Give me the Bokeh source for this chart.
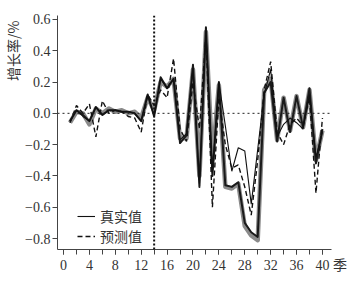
from bokeh.plotting import figure
from bokeh.models import (FixedTicker, CustomJSTickFormatter, Span, Legend, LegendItem, Range1d, Title)
from bokeh.embed import file_html
from bokeh.resources import INLINE

quarters = list(range(1, 41))
split_q = 14
x_unit = "季"
y_title = "增长率/%"

gray_vals = [-0.06, 0.01, 0.00, -0.07, 0.03, 0.00, 0.03, 0.01, 0.02, 0.00,
             0.01, -0.03, 0.10, 0.02, 0.20, 0.17, 0.22, -0.16, -0.16, 0.28,
             -0.40, 0.52, -0.30, 0.18, -0.47, -0.48, -0.45, -0.72, -0.78, -0.81,
             0.15, 0.22, -0.17, 0.10, -0.11, 0.11, -0.09, 0.15, -0.30, -0.11]
black_vals = [-0.05, 0.02, -0.01, -0.05, 0.04, -0.01, 0.02, 0.02, 0.01, 0.01,
              0.00, -0.05, 0.12, -0.02, 0.23, 0.16, 0.22, -0.19, -0.14, 0.31,
              -0.47, 0.55, -0.40, 0.20, -0.46, -0.47, -0.44, -0.70, -0.76, -0.79,
              0.13, 0.20, -0.18, 0.10, -0.12, 0.11, -0.09, 0.16, -0.32, -0.10]
true_vals = [-0.05, 0.02, -0.02, -0.05, 0.04, -0.01, 0.02, 0.02, 0.01, 0.01,
             0.00, -0.05, 0.12, -0.02, 0.22, 0.16, 0.22, -0.17, -0.13, 0.29,
             -0.45, 0.53, -0.38, 0.20, -0.08, -0.37, -0.22, -0.24, -0.58, -0.23,
             0.12, 0.28, -0.15, -0.07, -0.03, -0.06, -0.10, 0.12, -0.28, -0.12]
pred_vals = [-0.06, 0.05, 0.00, 0.06, -0.15, 0.08, 0.00, 0.02, 0.01, -0.02,
             -0.03, -0.12, 0.12, 0.05, 0.15, 0.10, 0.35, -0.10, -0.18, 0.20,
             -0.10, 0.50, -0.60, 0.10, -0.20, -0.35, -0.33, -0.47, -0.65, -0.30,
             0.15, 0.33, -0.12, -0.20, -0.07, -0.03, -0.08, 0.10, -0.51, -0.03]

x_ticks = [0, 4, 8, 12, 16, 20, 24, 28, 32, 36, 40]
x_minor = list(range(0, 41, 2))
y_ticks = [-0.8, -0.6, -0.4, -0.2, 0.0, 0.2, 0.4, 0.6]

p = figure(width=348, height=275, output_backend="svg", toolbar_location=None,
           x_range=Range1d(-0.93, 41.4), y_range=Range1d(-0.87, 0.625),
           min_border_left=57, min_border_right=17, min_border_top=15, min_border_bottom=23)
p.outline_line_color = None
p.grid.visible = False
p.background_fill_color = "white"

serif = "'Liberation Serif', 'Noto Sans CJK SC', serif"
for ax in (p.xaxis[0], p.yaxis[0]):
    ax.axis_line_color = "#444444"
    ax.major_tick_line_color = "#444444"
    ax.minor_tick_line_color = "#444444"
    ax.major_tick_in = 0
    ax.major_tick_out = 5
    ax.minor_tick_in = 0
    ax.minor_tick_out = 5
    ax.major_label_text_font = serif
    ax.major_label_text_font_size = "14px"
    ax.major_label_text_color = "#333333"
    ax.major_label_standoff = 3
p.yaxis[0].major_label_standoff = 2

p.xaxis[0].ticker = FixedTicker(ticks=x_ticks, minor_ticks=x_minor)
# last tick label carries the unit "季" to its right (padded so "40" stays centred)
p.xaxis[0].major_label_overrides = {40: "\u2007\u2007\u200540\u2005" + x_unit}
p.yaxis[0].ticker = FixedTicker(ticks=y_ticks, minor_ticks=[])
p.yaxis[0].formatter = CustomJSTickFormatter(
    code="return (tick < -1e-9 ? '\u2212' : '') + Math.abs(tick).toFixed(1);")

p.add_layout(Title(text=y_title, align="right", offset=5, standoff=0,
                   text_font="Noto Sans CJK SC", text_font_size="14px",
                   text_font_style="normal", text_color="#333333"), "left")

p.add_layout(Span(location=0, dimension="width", line_color="#222222",
                  line_width=1, line_dash="2 3"))
p.add_layout(Span(location=split_q, dimension="height", line_color="#111111",
                  line_width=2, line_dash="2 2"))

r_gray = p.line(quarters, gray_vals, line_color="#8a8a8a", line_width=4.5, line_join="round")
r_black = p.line(quarters, black_vals, line_color="#1a1a1a", line_width=2.0, line_join="round")
r_true = p.line(quarters, true_vals, line_color="#111111", line_width=1.1)
r_pred = p.line(quarters, pred_vals, line_color="#111111", line_width=1.4, line_dash="5 3")

legend = Legend(items=[LegendItem(label="真实值", renderers=[r_true]),
                       LegendItem(label="预测值", renderers=[r_pred])],
                location=(20, 3), background_fill_alpha=0, border_line_color=None,
                label_text_font="Noto Sans CJK SC", label_text_font_size="14px",
                label_text_color="#333333", glyph_width=18, glyph_height=14,
                label_height=16, spacing=-3, padding=0, margin=0, label_standoff=5)
p.add_layout(legend)

open("out.html", "w").write(file_html(p, INLINE))
